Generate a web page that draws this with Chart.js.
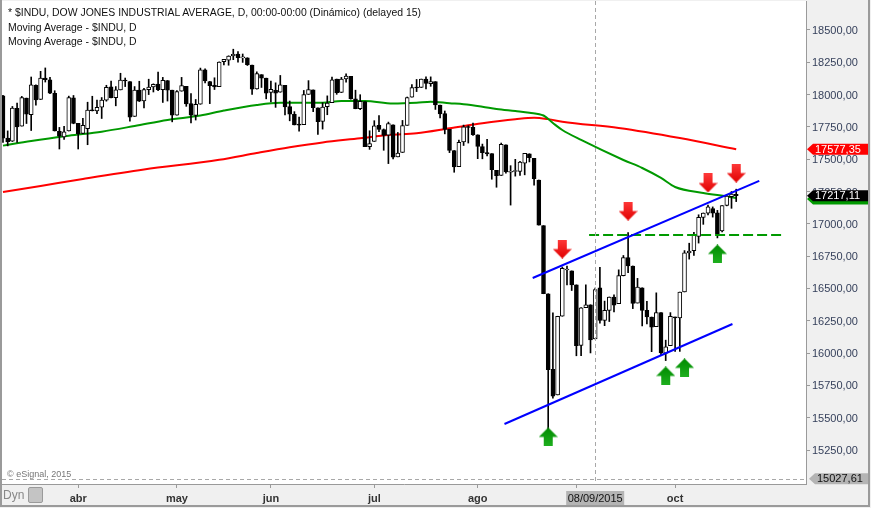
<!DOCTYPE html>
<html>
<head>
  <meta charset="utf-8">
  <title>$INDU - Dow Jones Industrial Average</title>
  <script src="https://cdn.jsdelivr.net/npm/chart.js"></script>
  <style>
    body { margin: 0; padding: 0; background: #f0f0f0; }
    #wrap { position: relative; width: 871px; height: 508px; overflow: hidden; }
    canvas { position: absolute; left: 0; top: 0; }
    .txt { position: absolute; font-family: 'Liberation Sans', Arial, sans-serif; white-space: nowrap; }
    .hdr { left: 8px; font-size: 10.45px; color: #111; line-height: 13px; }
    #copy { left: 7px; top: 469px; font-size: 9px; color: #777; }
    #dyn { left: 3px; top: 488px; font-size: 12px; color: #888; }
    #lock { position: absolute; left: 28px; top: 487px; width: 13px; height: 14px;
            background: #c4c4c4; border: 1px solid #9a9a9a; border-radius: 2px; }
  </style>
</head>
<body>
<div id="wrap">
  <canvas id="chart" width="871" height="508"></canvas>
  <div class="txt hdr" style="top:6px">* $INDU, DOW JONES INDUSTRIAL AVERAGE, D, 00:00-00:00 (Dinámico) (delayed 15)</div>
  <div class="txt hdr" style="top:21px">Moving Average - $INDU, D</div>
  <div class="txt hdr" style="top:35px">Moving Average - $INDU, D</div>
  <div class="txt" id="copy">© eSignal, 2015</div>
  <div class="txt" id="dyn">Dyn</div>
  <div id="lock"></div>
</div>
<script>
// trading days (dd/mm), 10/03/2015 .. 20/10/2015
const dates = [].concat(
  '10 11 12 13 16 17 18 19 20 23 24 25 26 27 30 31'.split(' ').map(d => d + '/03'),
  '01 02 06 07 08 09 10 13 14 15 16 17 20 21 22 23 24 27 28 29 30'.split(' ').map(d => d + '/04'),
  '01 04 05 06 07 08 11 12 13 14 15 18 19 20 21 22 26 27 28 29'.split(' ').map(d => d + '/05'),
  '01 02 03 04 05 08 09 10 11 12 15 16 17 18 19 22 23 24 25 26 29 30'.split(' ').map(d => d + '/06'),
  '01 02 06 07 08 09 10 13 14 15 16 17 20 21 22 23 24 27 28 29 30 31'.split(' ').map(d => d + '/07'),
  '03 04 05 06 07 10 11 12 13 14 17 18 19 20 21 24 25 26 27 28 31'.split(' ').map(d => d + '/08'),
  '01 02 03 04 08 09 10 11 14 15 16 17 18 21 22 23 24 25 28 29 30'.split(' ').map(d => d + '/09'),
  '01 02 05 06 07 08 09 12 13 14 15 16 19 20'.split(' ').map(d => d + '/10')
);

const opens = [
  17990,17663,17640,17893,17756,17973,17845,18072,17962,18128,18114,18010,17716,17673,17718,17974,
  17777,17699,17736,17880,17873,17902,17957,18060,17977,18036,18110,18100,17831,18035,17950,18037,18059,18081,18038,18109,18034,
  17841,18026,18063,17931,17839,17925,18192,18101,18071,18061,18254,18267,18300,18313,18284,18285,18229,18043,18154,18127,
  18017,18033,18018,18071,17907,17848,17765,17768,18001,18036,17897,17792,17906,17937,18119,18016,18122,18141,17968,17891,17946,17597,
  17638,17763,17730,17686,17765,17518,17552,17762,17979,18055,18055,18120,18085,18100,17918,17852,17731,17567,17443,17633,17750,17746,
  17689,17597,17552,17543,17414,17374,17612,17399,17405,17405,17469,17542,17507,17339,16986,16459,15874,15676,16285,16643,16636,
  16528,16060,16352,16374,16109,16505,16252,16330,16433,16382,16599,16738,16674,16387,16505,16330,16279,16205,16313,16000,16058,
  16278,16272,16473,16774,16793,16903,17049,17083,17118,17086,16945,17142,17210,17228
];
const highs = [
  17995,17719,17908,17935,17986,17973,18136,18076,18180,18206,18134,18030,17746,17754,17988,17993,
  17777,17817,17941,17987,17958,17977,18072,18105,18062,18165,18128,18100,18062,18103,18048,18119,18083,18175,18133,18109,18034,
  18030,18133,18063,18008,17962,18205,18199,18102,18130,18253,18272,18300,18351,18333,18314,18285,18229,18176,18154,18127,
  18105,18091,18148,18071,17950,17868,17825,18032,18108,18036,17897,17937,17990,18135,18120,18133,18161,18141,18034,17999,17946,17720,
  17798,17838,17734,17787,17765,17707,17800,17981,18077,18117,18120,18138,18137,18100,17918,17873,17731,17567,17648,17764,17759,17779,
  17689,17617,17653,17543,17414,17625,17612,17450,17499,17484,17545,17542,17507,17339,16986,16459,16312,16285,16666,16674,16636,
  16528,16352,16528,16374,16503,16664,16402,16434,16450,16644,16755,16933,16674,16578,16505,16400,16279,16466,16313,16100,16313,
  16278,16472,16793,16850,16934,17070,17084,17145,17131,17104,17142,17220,17250,17268
];
const lows = [
  17630,17603,17637,17630,17756,17776,17722,17918,17962,18097,18007,17718,17579,17654,17718,17774,
  17579,17698,17612,17873,17853,17815,17949,17975,17913,18036,18062,17794,17831,17946,17897,18000,18020,18031,17939,17950,17789,
  17841,18026,17909,17780,17803,17925,18091,17930,18039,18061,18230,18227,18270,18251,18249,18225,18001,18042,18055,17967,
  17943,17901,18018,17842,17797,17765,17716,17768,18001,17868,17691,17733,17844,17937,18002,18016,18096,17964,17890,17883,17596,17576,
  17638,17713,17569,17466,17502,17518,17552,17762,17979,18023,18055,18044,18064,17885,17819,17696,17551,17399,17443,17606,17625,17684,
  17504,17503,17526,17345,17283,17374,17391,17145,17369,17374,17379,17479,17299,16990,16459,15370,15651,15676,16285,16528,16484,
  15979,15980,16351,16001,16109,16232,16212,16244,16318,16382,16597,16622,16344,16387,16210,16225,16011,16205,15981,15942,16058,
  16013,16013,16473,16727,16755,16851,16996,17068,17052,16891,16938,17139,17120,17172
];
const closes = [
  17663,17635,17895,17749,17977,17849,18076,17959,18127,18116,18011,17718,17678,17712,17976,17776,
  17698,17763,17880,17875,17902,17958,18057,17977,18036,18112,18105,17826,18034,17949,18038,18058,18080,18037,18110,18035,17840,
  18024,18070,17928,17841,17924,18191,18105,18068,18060,18252,18272,18298,18312,18285,18285,18232,18041,18162,18126,18010,
  18040,18011,18076,17905,17849,17766,17764,18000,18039,17898,17791,17904,17935,18115,18015,18119,18144,17966,17890,17947,17596,17620,
  17758,17730,17684,17776,17515,17548,17760,17977,18054,18051,18120,18086,18100,17919,17851,17731,17568,17440,17631,17751,17745,17690,
  17598,17550,17541,17419,17373,17615,17402,17402,17409,17477,17545,17512,17349,16990,16460,15871,15666,16285,16655,16643,16528,
  16058,16351,16374,16102,16492,16253,16330,16433,16370,16599,16739,16675,16384,16510,16330,16280,16201,16314,16001,16049,16285,
  16272,16472,16776,16790,16912,17050,17084,17131,17082,16924,17141,17215,17230,17217.11
];

// moving averages: [day index, value]
const ma50 = [[0,17605],[6,17641],[14,17682],[21,17713],[28,17757],[35,17804],[42,17838],[47,17876],[54,17920],
  [59,17937],[68,17937],[72,17951],[77,17951],[83,17931],[88,17937],[91,17945],[95,17933],[98,17925],[102,17906],
  [105,17889],[109,17873],[112,17860],[115,17838],[117,17780],[119,17726],[123,17649],[132,17494],[136,17432],
  [140,17355],[143,17285],[149,17239],[154,17212],[156,17200]];
const ma200 = [[0,17246],[8,17293],[17,17347],[30,17420],[46,17495],[54,17548],[61,17592],[68,17630],[76,17662],
  [82,17688],[88,17701],[95,17739],[102,17778],[109,17809],[113,17821],[116,17810],[119,17790],[131,17742],
  [144,17664],[156,17577.35]];

// drawn studies
const upperChannel = [[112.7,16581],[160.9,17332]];
const lowerChannel = [[106.7,15451],[155.2,16225]];
const supportLine = [[124.7,16914],[165.8,16914]];
const redArrows = [[119,16805],[133,17099],[150,17316],[156,17393]];
const greenArrows = [[116,15351],[141,15823],[145,15885],[152,16767]];

const yTicks = [15250,15500,15750,16000,16250,16500,16750,17000,17250,17500,17750,18000,18250,18500];
const monthLabels = ['abr','may','jun','jul','ago','sep','oct'];
const crossDate = '08/09';
const crossLabel = '08/09/2015';
const crossPrice = 15027.61;

const monthStarts = [];
dates.forEach((d, i) => { if (i > 0 && d.slice(3) !== dates[i - 1].slice(3)) monthStarts.push(i); });
const crossIdx = dates.indexOf(crossDate);

const pts = arr => arr.map(p => ({ x: p[0], y: p[1] }));
const fmt = v => v.toFixed(2).replace('.', ',');

function arrowImage(light, dark, down) {
  const c = document.createElement('canvas');
  c.width = 19; c.height = 19;
  const g = c.getContext('2d');
  const grad = g.createLinearGradient(0, 0, 0, 19);
  grad.addColorStop(0, down ? light : dark);
  grad.addColorStop(1, down ? dark : light);
  g.fillStyle = grad;
  g.beginPath();
  if (down) {
    g.moveTo(5, 0); g.lineTo(14, 0); g.lineTo(14, 9.5); g.lineTo(19, 9.5);
    g.lineTo(9.5, 19); g.lineTo(0, 9.5); g.lineTo(5, 9.5);
  } else {
    g.moveTo(5, 19); g.lineTo(14, 19); g.lineTo(14, 9.5); g.lineTo(19, 9.5);
    g.lineTo(9.5, 0); g.lineTo(0, 9.5); g.lineTo(5, 9.5);
  }
  g.closePath();
  g.fill();
  return c;
}

function tag(ctx, x, y, text, bg, fg, w) {
  ctx.fillStyle = bg;
  ctx.beginPath();
  ctx.moveTo(x, y);
  ctx.lineTo(x + 6, y - 5.5);
  ctx.lineTo(x + w, y - 5.5);
  ctx.lineTo(x + w, y + 5.5);
  ctx.lineTo(x + 6, y + 5.5);
  ctx.closePath();
  ctx.fill();
  ctx.fillStyle = fg;
  ctx.font = '11px "Liberation Sans", Arial, sans-serif';
  ctx.textBaseline = 'middle';
  ctx.textAlign = 'left';
  ctx.fillText(text, x + 8, y + 0.5);
}

const framePlugin = {
  id: 'frame',
  beforeDraw(chart) {
    const { ctx, chartArea: a } = chart;
    ctx.save();
    ctx.fillStyle = '#f0f0f0';
    ctx.fillRect(0, 0, chart.width, chart.height);
    ctx.fillStyle = '#ffffff';
    ctx.fillRect(a.left, a.top, a.right - a.left, a.bottom - a.top);
    ctx.restore();
  },
  afterDatasetsDraw(chart) {
    const { ctx, chartArea: a, scales } = chart;
    const cx = Math.round(scales.x.getPixelForValue(crossIdx)) + 0.5;
    const cy = Math.round(scales.y.getPixelForValue(crossPrice)) + 0.5;
    ctx.save();
    ctx.strokeStyle = '#a8a8a8';
    ctx.lineWidth = 1;
    ctx.setLineDash([4, 3]);
    ctx.beginPath();
    ctx.moveTo(cx, a.top); ctx.lineTo(cx, a.bottom);
    ctx.moveTo(a.left, cy); ctx.lineTo(a.right, cy);
    ctx.stroke();
    ctx.restore();
  },
  afterDraw(chart) {
    const { ctx, chartArea: a, scales } = chart;
    const y = scales.y;
    const x0 = a.right + 1;
    ctx.save();
    tag(ctx, x0, y.getPixelForValue(ma200[ma200.length - 1][1]), fmt(ma200[ma200.length - 1][1]), '#ff0000', '#ffffff', 62);
    tag(ctx, x0, y.getPixelForValue(ma50[ma50.length - 1][1]) + 1, '', '#009900', '#ffffff', 62);
    tag(ctx, x0, y.getPixelForValue(closes[closes.length - 1]), fmt(closes[closes.length - 1]), '#000000', '#ffffff', 62);
    tag(ctx, x0 + 2, y.getPixelForValue(crossPrice), fmt(crossPrice), '#b4b4b4', '#111111', 59);

    // date label of the cross-hair
    const cx = scales.x.getPixelForValue(crossIdx);
    ctx.fillStyle = '#b4b4b4';
    ctx.fillRect(cx - 29, a.bottom + 7, 58, 14);
    ctx.fillStyle = '#111111';
    ctx.font = '11px "Liberation Sans", Arial, sans-serif';
    ctx.textAlign = 'center';
    ctx.textBaseline = 'middle';
    ctx.fillText(crossLabel, cx, a.bottom + 14.5);

    // window frame
    ctx.strokeStyle = '#9a9a9a';
    ctx.lineWidth = 2;
    ctx.beginPath();
    ctx.moveTo(1, 0); ctx.lineTo(1, chart.height - 2);
    ctx.lineTo(chart.width - 2, chart.height - 2); ctx.lineTo(chart.width - 2, 0);
    ctx.stroke();
    ctx.restore();
  }
};

const isUp = i => closes[i] >= opens[i];

new Chart(document.getElementById('chart'), {
  type: 'bar',
  data: {
    datasets: [
      {
        type: 'scatter', order: 0, data: pts(redArrows),
        pointStyle: arrowImage('#ff3a3a', '#e00000', true), pointRadius: 9, pointHoverRadius: 9
      },
      {
        type: 'scatter', order: 0, data: pts(greenArrows),
        pointStyle: arrowImage('#1fb01f', '#008a00', false), pointRadius: 9, pointHoverRadius: 9
      },
      {
        type: 'line', order: 1, data: pts(upperChannel),
        borderColor: '#0000ff', borderWidth: 2, pointRadius: 0, fill: false
      },
      {
        type: 'line', order: 1, data: pts(lowerChannel),
        borderColor: '#0000ff', borderWidth: 2, pointRadius: 0, fill: false
      },
      {
        type: 'line', order: 1, data: pts(supportLine),
        borderColor: '#009a00', borderWidth: 2, borderDash: [10, 4], pointRadius: 0, fill: false
      },
      {
        order: 2, grouped: false, barThickness: 4, minBarLength: 1,
        data: closes.map((c, i) => ({ x: i, y: [opens[i], c] })),
        backgroundColor: ctx => isUp(ctx.dataIndex) ? '#ffffff' : '#000000',
        borderColor: '#000000', borderWidth: 1, borderSkipped: false
      },
      {
        order: 3, grouped: false, barThickness: 1,
        data: closes.map((c, i) => ({ x: i, y: [lows[i], highs[i]] })),
        backgroundColor: '#000000', borderWidth: 0
      },
      {
        type: 'line', order: 4, data: pts(ma50),
        borderColor: '#009900', borderWidth: 2, pointRadius: 0, fill: false, cubicInterpolationMode: 'monotone'
      },
      {
        type: 'line', order: 4, data: pts(ma200),
        borderColor: '#ff0000', borderWidth: 2, pointRadius: 0, fill: false, cubicInterpolationMode: 'monotone'
      }
    ]
  },
  options: {
    responsive: false,
    devicePixelRatio: 1,
    animation: false,
    layout: { autoPadding: false, padding: { left: 2, top: 1, right: 3, bottom: 3 } },
    plugins: { legend: { display: false }, tooltip: { enabled: false } },
    scales: {
      x: {
        type: 'linear',
        offset: false,
        min: -0.21,
        max: 170.85,
        afterFit: s => { s.height = 21; s.paddingLeft = 0; s.paddingRight = 0; },
        afterBuildTicks: s => { s.ticks = monthStarts.map(v => ({ value: v })); },
        ticks: {
          callback: (v, i) => monthLabels[i],
          font: { family: '"Liberation Sans", Arial, sans-serif', size: 11, weight: 'bold' },
          color: '#333333',
          padding: 4,
          maxRotation: 0,
          autoSkip: false
        },
        grid: { offset: false, drawOnChartArea: false, tickLength: 4, color: '#9a9a9a' },
        border: { color: '#9a9a9a', width: 1 }
      },
      y: {
        position: 'right',
        min: 14987,
        max: 18724,
        afterFit: s => { s.width = 62; s.paddingTop = 0; s.paddingBottom = 0; },
        afterBuildTicks: s => { s.ticks = yTicks.map(v => ({ value: v })); },
        ticks: {
          callback: v => fmt(v),
          font: { family: '"Liberation Sans", Arial, sans-serif', size: 11 },
          color: '#343f5a',
          padding: 2,
          labelOffset: 1
        },
        grid: { drawOnChartArea: false, tickLength: 4, color: '#9a9a9a' },
        border: { color: '#9a9a9a', width: 1 }
      }
    }
  },
  plugins: [framePlugin]
});
</script>
</body>
</html>
